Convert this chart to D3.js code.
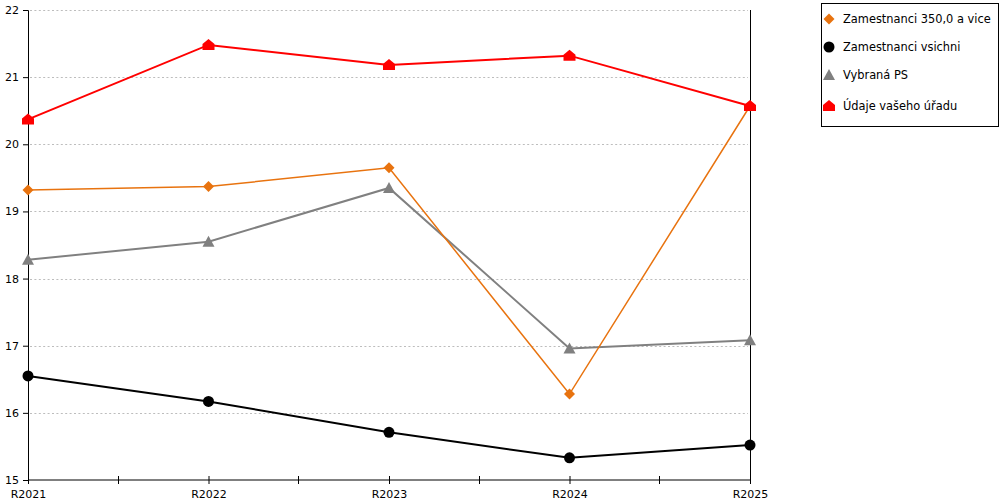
<!DOCTYPE html>
<html><head><meta charset="utf-8">
<script src="https://cdn.jsdelivr.net/npm/d3@7"></script>
<style>body{margin:0;background:#fff}svg{display:block;font-family:"DejaVu Sans",sans-serif}</style>
</head><body><svg id="c" width="1000" height="500"></svg>
<script>
const categories = ["R2021","R2022","R2023","R2024","R2025"];
const seriesNames = ["Zamestnanci 350,0 a vice","Zamestnanci vsichni","Vybraná PS","Údaje vašeho úřadu"];
const orangeVals = [19.32, 19.37, 19.65, 16.28, 20.57];
const blackVals = [16.55, 16.17, 15.71, 15.33, 15.52];
const grayVals = [18.28, 18.55, 19.35, 16.96, 17.08];
const redVals = [20.37, 21.48, 21.18, 21.32, 20.57];
const yTicks = [15,16,17,18,19,20,21,22];
const colors = ["#e8730f","#000000","#808080","#ff0000"];

const svg = d3.select("#c");
const x = d3.scalePoint().domain(categories).range([28, 750]);
const y = d3.scaleLinear().domain([15, 22]).range([480, 10]);

// gridlines
svg.append("g").selectAll("line").data(yTicks.filter(t=>t>15)).join("line")
  .attr("x1",30).attr("x2",748).attr("y1",d=>Math.round(y(d))+0.5).attr("y2",d=>Math.round(y(d))+0.5)
  .attr("stroke","#bdbdbd").attr("stroke-dasharray","2,2.4");

// right border line
svg.append("line").attr("x1",750).attr("x2",750).attr("y1",y(22)).attr("y2",y(15))
  .attr("stroke","#000").attr("shape-rendering","crispEdges");

// y axis
const yAxis = svg.append("g").attr("transform","translate(28,0)")
  .call(d3.axisLeft(y).tickValues(yTicks).tickSize(5).tickPadding(4).tickFormat(d3.format("d")));
yAxis.select(".domain").attr("stroke","#000");
yAxis.selectAll("text").attr("font-size","11px").attr("fill","#000").attr("font-family","DejaVu Sans");

// x axis
const xAxis = svg.append("g").attr("transform","translate(0,480)")
  .call(d3.axisBottom(x).tickSize(4).tickPadding(6));
xAxis.select(".domain").attr("d","M28,0H750").attr("stroke","#000");
xAxis.selectAll(".tick line").attr("y1",-4).attr("y2",4);
xAxis.selectAll("text").attr("font-size","11px").attr("fill","#000").attr("font-family","DejaVu Sans");
// mid ticks
const step = x.step();
svg.append("g").selectAll("line").data(categories.slice(0,-1)).join("line")
  .attr("x1",d=>x(d)+step/2).attr("x2",d=>x(d)+step/2).attr("y1",476).attr("y2",484)
  .attr("stroke","#000").attr("shape-rendering","crispEdges");

const allSeries = [orangeVals, blackVals, grayVals, redVals];
const line = d3.line().x((d,i)=>x(categories[i])).y(d=>y(d));

function marker(g, k, cx, cy, c){
  if(k===0){ g.append("path").attr("d",`M${cx},${cy-5.5}L${cx+5.5},${cy}L${cx},${cy+5.5}L${cx-5.5},${cy}Z`).attr("fill",c); }
  else if(k===1){ g.append("circle").attr("cx",cx).attr("cy",cy).attr("r",5.5).attr("fill",c); }
  else if(k===2){ g.append("path").attr("d",`M${cx},${cy-6}L${cx+6},${cy+5}L${cx-6},${cy+5}Z`).attr("fill",c); }
  else { g.append("path").attr("d",`M${cx},${cy-6}L${cx+6},${cy-1}L${cx+6},${cy+5}L${cx-6},${cy+5}L${cx-6},${cy-1}Z`).attr("fill",c); }
}

// draw order: black, gray, orange, red
[1,2,0,3].forEach(k=>{
  const vals = allSeries[k];
  svg.append("path").datum(vals).attr("d",line).attr("fill","none")
    .attr("stroke",colors[k]).attr("stroke-width", k===0?1.5:2);
  const g = svg.append("g");
  vals.forEach((v,i)=>marker(g,k,x(categories[i]),y(v),colors[k]));
});

// legend
const lg = svg.append("g");
lg.append("rect").attr("x",821.5).attr("y",3.5).attr("width",177).attr("height",123)
  .attr("fill","#fff").attr("stroke","#000");
seriesNames.forEach((n,i)=>{
  const cy = [19,47,75,106][i];
  marker(lg,i,829,cy,colors[i]);
  lg.append("text").attr("x",843).attr("y",cy+4).attr("font-size","11.4px").attr("fill","#000").text(n);
});
</script></body></html>
